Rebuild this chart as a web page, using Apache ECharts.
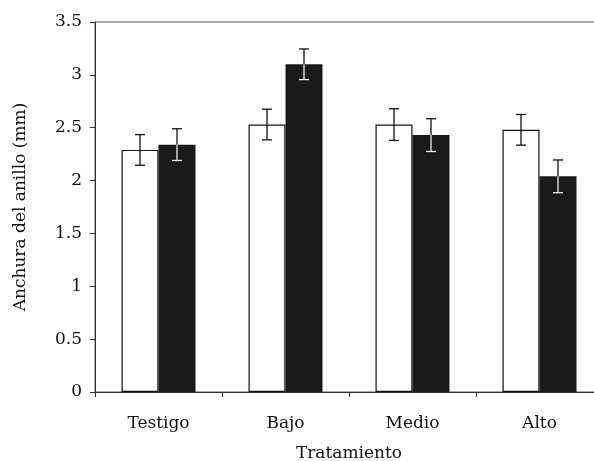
<!DOCTYPE html>
<html>
<head>
<meta charset="utf-8">
<script src="https://cdn.jsdelivr.net/npm/echarts@6/dist/echarts.min.js"></script>
<style>html,body{margin:0;padding:0;background:#fff}#c{width:594px;height:461px}</style>
</head>
<body>
<div id="c"></div>
<script>
var categories = ['Testigo', 'Bajo', 'Medio', 'Alto'];
var whiteValues = [2.29, 2.53, 2.53, 2.48];
var blackValues = [2.34, 3.10, 2.43, 2.04];
var whiteErrors = [0.145, 0.145, 0.15, 0.145];
var blackErrors = [0.15, 0.145, 0.155, 0.155];
var yTicks = [0, 0.5, 1, 1.5, 2, 2.5, 3, 3.5];

var FONT = 'DejaVu Serif';
var FS = 17;
var BAR_W = 37;

function errData(vals, errs) {
  return vals.map(function (v, i) { return [i, v, v - errs[i], v + errs[i]]; });
}

function errRenderer(offset, lowerColor) {
  return function (params, api) {
    var i = api.value(0);
    var v = api.value(1), lo = api.value(2), hi = api.value(3);
    var pv = api.coord([i, v]);
    var pl = api.coord([i, lo]);
    var ph = api.coord([i, hi]);
    var x = pv[0] + offset;
    var cap = 5;
    var upStyle = { stroke: '#111', lineWidth: 1.3 };
    var lowStyle = { stroke: lowerColor, lineWidth: 1.3 };
    return {
      type: 'group',
      children: [
        { type: 'line', shape: { x1: x, y1: ph[1], x2: x, y2: pv[1] }, style: upStyle },
        { type: 'line', shape: { x1: x - cap, y1: ph[1], x2: x + cap, y2: ph[1] }, style: upStyle },
        { type: 'line', shape: { x1: x, y1: pv[1], x2: x, y2: pl[1] }, style: lowStyle },
        { type: 'line', shape: { x1: x - cap, y1: pl[1], x2: x + cap, y2: pl[1] }, style: lowStyle }
      ]
    };
  };
}

var chart = echarts.init(document.getElementById('c'), null, { renderer: 'canvas' });
chart.setOption({
  animation: false,
  backgroundColor: '#fff',
  grid: {
    left: 95, top: 22, width: 508, height: 370,
    containLabel: false, outerBoundsMode: 'none',
    show: true, borderColor: '#555', borderWidth: 1, backgroundColor: 'transparent'
  },
  xAxis: {
    type: 'category',
    data: categories,
    name: 'Tratamiento',
    nameLocation: 'middle',
    nameGap: 53,
    nameTextStyle: { fontFamily: FONT, fontSize: FS, color: '#111' },
    axisLine: { lineStyle: { color: '#333', width: 1 } },
    axisTick: { show: true, alignWithLabel: false, length: 5, lineStyle: { color: '#333' } },
    axisLabel: { fontFamily: FONT, fontSize: FS, color: '#111', margin: 23 }
  },
  yAxis: {
    type: 'value',
    min: 0, max: 3.5, interval: 0.5,
    name: 'Anchura del anillo (mm)',
    nameLocation: 'middle',
    nameGap: 66,
    nameTextStyle: { fontFamily: FONT, fontSize: FS, color: '#111' },
    axisLine: { show: true, lineStyle: { color: '#333', width: 1 } },
    axisTick: { show: true, length: 5, lineStyle: { color: '#333' } },
    splitLine: { show: false },
    axisLabel: {
      fontFamily: FONT, fontSize: FS, color: '#111', margin: 13,
      formatter: function (v) { return yTicks.indexOf(v) >= 0 ? String(v) : ''; }
    }
  },
  series: [
    {
      type: 'bar', data: whiteValues, barWidth: BAR_W, barGap: '0%',
      itemStyle: { color: '#fff', borderColor: '#111', borderWidth: 1.2 }
    },
    {
      type: 'bar', data: blackValues, barWidth: BAR_W, barGap: '0%',
      itemStyle: { color: '#1a1a1a' }
    },
    {
      type: 'custom', data: errData(whiteValues, whiteErrors),
      encode: { x: 0, y: [1, 2, 3] }, z: 5,
      renderItem: errRenderer(-BAR_W / 2, '#111')
    },
    {
      type: 'custom', data: errData(blackValues, blackErrors),
      encode: { x: 0, y: [1, 2, 3] }, z: 5,
      renderItem: errRenderer(BAR_W / 2, '#eee')
    }
  ]
});
</script>
</body>
</html>
